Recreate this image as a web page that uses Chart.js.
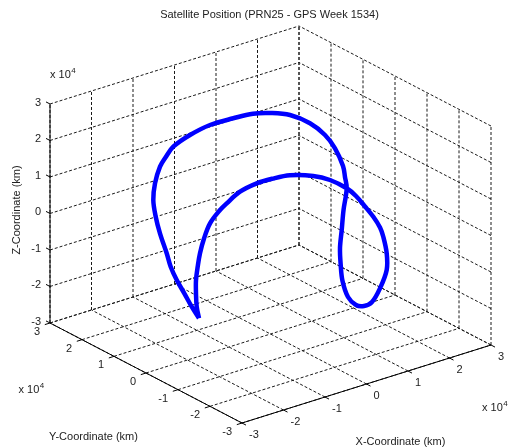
<!DOCTYPE html>
<html>
<head>
<meta charset="utf-8">
<script src="https://cdn.jsdelivr.net/npm/chart.js@4.4.0/dist/chart.umd.min.js"></script>
<style>
  html, body { margin: 0; padding: 0; background: #fff; }
  #wrap { width: 513px; height: 448px; }
</style>
</head>
<body>
<div id="wrap"><canvas id="orbitChart" width="513" height="448"></canvas></div>
<script>
const chartTitle = "Satellite Position (PRN25 - GPS Week 1534)";
const axisTicks = [-3, -2, -1, 0, 1, 2, 3]; // units of 10^4 km
const tickLabels = ["-3", "-2", "-1", "0", "1", "2", "3"];
const xName = "X-Coordinate (km)";
const yName = "Y-Coordinate (km)";
const zName = "Z-Coordinate (km)";

// ECEF positions, km
const orbitX = [-18960, -23100, -24400, -24890, -24790, -24290, -23260, -21680, -19520, -18120,
  -15280, -12070, -9270, -5940, -1920, 810, 3290, 4480, 5510, 6700, 7660, 8070, 8640, 9060,
  8630, 9700, 10020, 11590, 13720, 16460, 18660, 20580, 22390, 23890, 24970, 24960, 24680,
  23260, 21150, 17850, 13140, 9370, 6420, 4470, 80, -3450, -6710, -7260, -8020, -8580, -9010,
  -8890, -8860, -9120, -9880, -10470, -11110, -12550];
const orbitY = [-2240, -6900, -8360, -9000, -9400, -9470, -9390, -9220, -9540, -9820, -10290,
  -11340, -12490, -13800, -15860, -17550, -19550, -20900, -22380, -23500, -24290, -24780,
  -25110, -24560, -23030, -19140, -16220, -11690, -6430, -1160, 2260, 4970, 6780, 8160, 8570,
  9090, 9350, 10010, 10400, 10810, 10950, 12310, 13800, 17420, 19010, 20680, 21680, 23400,
  24130, 24960, 24940, 24340, 23050, 20610, 18380, 15730, 12530, 8350];
const orbitZ = [-17920, -11140, -6340, -2230, 1560, 5080, 8730, 12260, 15280, 16750, 19130,
  20760, 21530, 21900, 21220, 19920, 17680, 15760, 13190, 10400, 7540, 5100, 500, -4470,
  -10040, -15950, -18490, -20840, -21810, -20810, -18770, -16040, -12580, -8260, -2890, -30,
  2970, 8020, 12240, 16440, 20320, 21590, 21770, 19550, 18550, 16300, 13800, 10250, 7670, 2940,
  -1470, -5810, -9790, -14050, -16440, -18660, -20620, -21870];

// view (az/el like matlab default-ish), pixels per 10^4 km
const view = { cx: 270.5, cy: 224.5, ex: [41.5, -13], ey: [-32, -16.67], ez: [0, -36.5] };

function project(x, y, z) {
  return {
    x: view.cx + x * view.ex[0] + y * view.ey[0] + z * view.ez[0],
    y: view.cy + x * view.ex[1] + y * view.ey[1] + z * view.ez[1],
  };
}

const orbitPts = orbitX.map((x, i) => project(x / 1e4, orbitY[i] / 1e4, orbitZ[i] / 1e4));
orbitPts.push(orbitPts[0]);

const lo = axisTicks[0];
const hi = axisTicks[axisTicks.length - 1];
const font = '11px "Liberation Sans", Arial, sans-serif';
const textColor = "#222";

function px(chart, p) {
  return [chart.scales.x.getPixelForValue(p.x), chart.scales.y.getPixelForValue(p.y)];
}

function line3(chart, a, b) {
  const ctx = chart.ctx;
  const p = px(chart, project(...a));
  const q = px(chart, project(...b));
  ctx.moveTo(p[0], p[1]);
  ctx.lineTo(q[0], q[1]);
}

const box3d = {
  id: "box3d",
  beforeDatasetsDraw(chart) {
    const ctx = chart.ctx;
    ctx.save();
    ctx.strokeStyle = "#1a1a1a";
    ctx.lineWidth = 1;
    ctx.setLineDash([3, 2]);
    ctx.beginPath();
    axisTicks.forEach((t) => {
      // back wall y = hi
      line3(chart, [t, hi, lo], [t, hi, hi]);
      line3(chart, [lo, hi, t], [hi, hi, t]);
      // back wall x = hi
      line3(chart, [hi, t, lo], [hi, t, hi]);
      line3(chart, [hi, lo, t], [hi, hi, t]);
      // floor
      line3(chart, [t, lo, lo], [t, hi, lo]);
      line3(chart, [lo, t, lo], [hi, t, lo]);
    });
    ctx.stroke();
    ctx.restore();
  },
  afterDraw(chart) {
    const ctx = chart.ctx;
    ctx.save();
    ctx.strokeStyle = "#000";
    ctx.lineWidth = 1;
    ctx.beginPath();
    line3(chart, [lo, hi, lo], [lo, hi, hi]); // z axis
    line3(chart, [lo, lo, lo], [lo, hi, lo]); // y axis
    line3(chart, [lo, lo, lo], [hi, lo, lo]); // x axis
    const tl = 0.125;
    axisTicks.forEach((t) => {
      line3(chart, [lo, hi, t], [lo, hi + tl, t]);
      line3(chart, [lo, t, lo], [lo - tl, t, lo]);
      line3(chart, [t, lo, lo], [t, lo - tl, lo]);
    });
    ctx.stroke();

    ctx.fillStyle = textColor;
    ctx.font = font;
    ctx.textBaseline = "middle";
    axisTicks.forEach((t, i) => {
      let p = px(chart, project(lo, hi, t));
      ctx.textAlign = "right";
      ctx.fillText(tickLabels[i], p[0] - 9, p[1] - 1.5);
      p = px(chart, project(lo, t, lo));
      ctx.fillText(tickLabels[i], p[0] - 10, p[1] + 9);
      p = px(chart, project(t, lo, lo));
      ctx.textAlign = "left";
      ctx.fillText(tickLabels[i], p[0] + 7, p[1] + 11.5);
    });

    // exponent labels
    const expo = (x, y) => {
      ctx.font = font;
      ctx.textAlign = "left";
      ctx.fillText("x 10", x, y);
      const w = ctx.measureText("x 10").width;
      ctx.font = '8px "Liberation Sans", Arial, sans-serif';
      ctx.fillText("4", w + x + 0.5, y - 4);
    };
    expo(50, 75);
    expo(18.5, 390);
    expo(482, 407.5);

    ctx.font = font;
    ctx.textAlign = "center";
    ctx.fillText(chartTitle, 269.5, 15);
    ctx.fillText(xName, 400.5, 442);
    ctx.fillText(yName, 93.5, 437);
    ctx.translate(17, 210);
    ctx.rotate(-Math.PI / 2);
    ctx.fillText(zName, 0, 0);
    ctx.restore();
  },
};

new Chart(document.getElementById("orbitChart"), {
  type: "scatter",
  data: {
    datasets: [
      {
        label: "PRN25",
        data: orbitPts,
        showLine: true,
        borderColor: "#0000ff",
        backgroundColor: "#0000ff",
        borderWidth: 4.5,
        pointRadius: 0,
        tension: 0.35,
      },
    ],
  },
  options: {
    responsive: false,
    animation: false,
    layout: { padding: 0 },
    scales: {
      x: { type: "linear", min: 0, max: 513, display: false },
      y: { type: "linear", min: 0, max: 448, reverse: true, display: false },
    },
    plugins: {
      legend: { display: false },
      tooltip: { enabled: false },
    },
  },
  plugins: [box3d],
});
</script>
</body>
</html>
